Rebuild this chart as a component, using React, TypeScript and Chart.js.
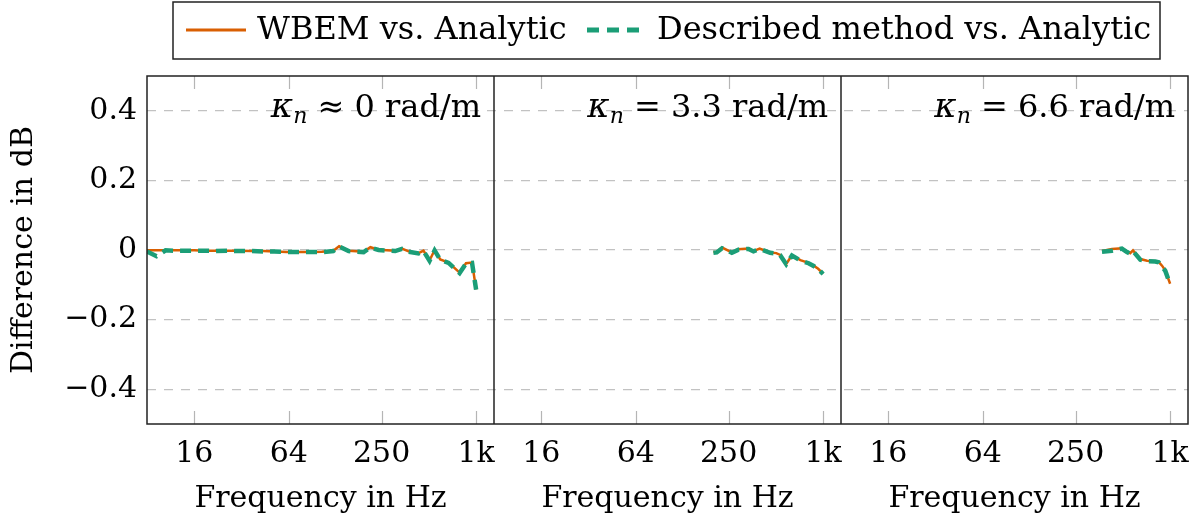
import { useEffect, useRef } from "react"
import Chart from "chart.js/auto"

const FONT = "DejaVu Serif"
const ORANGE = "#d95f02"
const GREEN = "#1b9e77"

const seriesNames = ["WBEM vs. Analytic", "Described method vs. Analytic"]
const panelLabels = ["≈ 0 rad/m", "= 3.3 rad/m", "= 6.6 rad/m"]
const xTicks = [16, 64, 250, 1000]
const yTicks = [-0.4, -0.2, 0, 0.2, 0.4]

// kappa_n ~ 0
const freq1 = [8, 9.2, 10.5, 12, 14, 16, 19, 22, 26, 31, 37, 44, 52, 62, 74, 88, 104, 123, 134, 154, 192, 212, 239, 305, 337, 371, 430, 462, 505, 544, 591, 668, 785, 862, 942, 1000]
const wbem1 = [-0.001, -0.001, -0.001, -0.001, -0.001, -0.001, -0.002, -0.002, -0.002, -0.002, -0.003, -0.003, -0.004, -0.006, -0.006, -0.006, -0.005, -0.002, 0.011, -0.002, -0.005, 0.008, 0.001, -0.002, 0.004, -0.004, -0.009, -0.002, -0.03, 0.0, -0.027, -0.036, -0.065, -0.038, -0.036, -0.113]
const described1 = [-0.004, -0.018, -0.001, -0.002, -0.002, -0.002, -0.002, -0.003, -0.002, -0.003, -0.003, -0.004, -0.004, -0.006, -0.006, -0.006, -0.006, -0.003, 0.01, -0.003, -0.006, 0.007, 0.0, -0.003, 0.003, -0.005, -0.01, -0.003, -0.031, -0.001, -0.028, -0.037, -0.066, -0.039, -0.037, -0.114]

// kappa_n = 3.3
const freq2 = [200, 210, 227, 262, 289, 335, 360, 394, 460, 503, 533, 582, 633, 716, 808, 870, 930, 1000]
const wbem2 = [-0.006, -0.005, 0.007, -0.007, 0.002, 0.004, -0.003, 0.004, -0.007, -0.009, -0.014, -0.04, -0.015, -0.029, -0.037, -0.045, -0.054, -0.068]
const described2 = [-0.008, -0.007, 0.005, -0.008, 0.001, 0.003, -0.004, 0.003, -0.008, -0.01, -0.015, -0.041, -0.016, -0.03, -0.038, -0.046, -0.055, -0.069]

// kappa_n = 6.6
const freq3 = [368, 426, 493, 531, 557, 580, 646, 713, 805, 845, 888, 932, 1000]
const wbem3 = [-0.003, 0.003, 0.005, -0.004, -0.009, -0.001, -0.026, -0.031, -0.032, -0.034, -0.045, -0.059, -0.097]
const described3 = [-0.005, -0.002, 0.004, -0.006, -0.011, -0.003, -0.028, -0.032, -0.033, -0.035, -0.047, -0.06, -0.099]

const panels = [
  { id: "x1", freq: freq1, wbem: wbem1, described: described1 },
  { id: "x2", freq: freq2, wbem: wbem2, described: described2 },
  { id: "x3", freq: freq3, wbem: wbem3, described: described3 },
]

const font = { family: FONT, size: 30 }
const bigSize = 32

function points(xs: number[], ys: number[]) {
  return xs.map((x, i) => ({ x, y: ys[i] }))
}

function fmtY(v: number) {
  if (Math.abs(v) < 1e-9) return "0"
  return (v < 0 ? "\u2212" : "") + Math.abs(v).toFixed(1)
}

const framePlugin = {
  id: "frame",
  afterDatasetsDraw(chart: any) {
    const ctx = chart.ctx as CanvasRenderingContext2D
    const { left, right, top, bottom } = chart.chartArea
    ctx.save()

    // small ticks inside the boxes
    ctx.strokeStyle = "#b5b5b5"
    ctx.lineWidth = 1.2
    panels.forEach((p) => {
      const s = chart.scales[p.id]
      xTicks.forEach((f) => {
        const px = Math.round(s.getPixelForValue(f)) + 0.5
        ctx.beginPath()
        ctx.moveTo(px, top)
        ctx.lineTo(px, top + 13)
        ctx.moveTo(px, bottom - 13)
        ctx.lineTo(px, bottom)
        ctx.stroke()
      })
    })

    // frame and panel separators
    ctx.strokeStyle = "#222"
    ctx.lineWidth = 1.5
    ctx.strokeRect(left, top, right - left, bottom - top)
    ;["x2", "x3"].forEach((id) => {
      const x = chart.scales[id].left
      ctx.beginPath()
      ctx.moveTo(x, top)
      ctx.lineTo(x, bottom)
      ctx.stroke()
    })

    // panel labels
    ctx.fillStyle = "#000"
    ctx.textBaseline = "alphabetic"
    panels.forEach((p, i) => {
      const s = chart.scales[p.id]
      const big = `italic ${bigSize + 2}px "${FONT}"`
      const small = `italic 22px "${FONT}"`
      const plain = `${bigSize}px "${FONT}"`
      const rest = " " + panelLabels[i]
      ctx.font = big
      const wk = ctx.measureText("κ").width
      ctx.font = small
      const wn = ctx.measureText("n").width
      ctx.font = plain
      const wr = ctx.measureText(rest).width
      let x = s.right - 13 - (wk + wn + wr)
      const y = top + 41
      ctx.font = big
      ctx.fillText("κ", x, y)
      x += wk
      ctx.font = small
      ctx.fillText("n", x, y + 6)
      x += wn
      ctx.font = plain
      ctx.fillText(rest, x, y)
    })
    ctx.restore()
  },
  afterDraw(chart: any) {
    const ctx = chart.ctx as CanvasRenderingContext2D
    ctx.save()
    ctx.strokeStyle = "#222"
    ctx.lineWidth = 1.5
    ctx.strokeRect(173, 2, 987, 57)

    ctx.lineWidth = 3
    ctx.strokeStyle = ORANGE
    ctx.beginPath()
    ctx.moveTo(186, 30)
    ctx.lineTo(246, 30)
    ctx.stroke()

    ctx.lineWidth = 5
    ctx.strokeStyle = GREEN
    ctx.setLineDash([12, 8])
    ctx.beginPath()
    ctx.moveTo(587, 30)
    ctx.lineTo(643, 30)
    ctx.stroke()
    ctx.setLineDash([])

    ctx.fillStyle = "#000"
    ctx.font = `${bigSize}px "${FONT}"`
    ctx.textBaseline = "middle"
    ctx.fillText(seriesNames[0], 257, 31)
    ctx.fillText(seriesNames[1], 657, 31)
    ctx.restore()
  },
}

export default function App() {
  const chartRef = useRef<HTMLCanvasElement>(null)
  const chartInstance = useRef<Chart | null>(null)

  useEffect(() => {
    if (!chartRef.current) return
    if (chartInstance.current) chartInstance.current.destroy()

    const datasets: any[] = []
    panels.forEach((p) => {
      datasets.push({
        label: seriesNames[1],
        data: points(p.freq, p.described),
        xAxisID: p.id,
        yAxisID: "y",
        borderColor: GREEN,
        borderWidth: 4.5,
        borderDash: [11, 7],
        pointRadius: 0,
        tension: 0,
        order: 0,
      })
      datasets.push({
        label: seriesNames[0],
        data: points(p.freq, p.wbem),
        xAxisID: p.id,
        yAxisID: "y",
        borderColor: ORANGE,
        borderWidth: 2.5,
        pointRadius: 0,
        tension: 0,
        order: 1,
      })
    })

    const xScale = () => ({
      type: "logarithmic",
      position: "bottom",
      stack: "freq",
      stackWeight: 1,
      min: 8,
      max: 1300,
      // invisible tick marks give the label offset without extra side padding
      grid: { display: true, drawOnChartArea: false, drawTicks: true, tickLength: 12, color: "rgba(0,0,0,0)" },
      border: { display: false },
      ticks: {
        font,
        color: "#000",
        padding: 0,
        maxRotation: 0,
        autoSkip: false,
        callback: (v: any) => (Number(v) === 1000 ? "1k" : String(v)),
      },
      title: {
        display: true,
        text: "Frequency in Hz",
        font,
        color: "#000",
        padding: { top: 0, bottom: 12 },
      },
      afterBuildTicks: (s: any) => {
        s.ticks = xTicks.map((v) => ({ value: v }))
      },
      afterFit: (s: any) => {
        s.height = 105
      },
    })

    chartInstance.current = new Chart(chartRef.current, {
      type: "line",
      data: { datasets },
      plugins: [framePlugin],
      options: {
        responsive: false,
        animation: false,
        layout: { padding: { top: 76, right: 12, bottom: 0, left: 0 } },
        plugins: {
          legend: { display: false },
          tooltip: { enabled: false },
        },
        scales: {
          x1: xScale(),
          x2: xScale(),
          x3: xScale(),
          y: {
            type: "linear",
            position: "left",
            min: -0.5,
            max: 0.5,
            grid: { color: "#c2c2c2", lineWidth: 1.3, drawTicks: false },
            border: { display: false, dash: [9, 8] },
            ticks: {
              font,
              color: "#000",
              padding: 10,
              callback: (v: any) => fmtY(Number(v)),
            },
            title: {
              display: true,
              text: "Difference in dB",
              font,
              color: "#000",
              padding: { top: 6, bottom: 0 },
            },
            afterBuildTicks: (s: any) => {
              s.ticks = yTicks.map((v) => ({ value: v }))
            },
            afterFit: (s: any) => {
              s.width = 147
            },
          },
        } as any,
      },
    })

    return () => {
      if (chartInstance.current) {
        chartInstance.current.destroy()
        chartInstance.current = null
      }
    }
  }, [])

  return (
    <div style={{ position: "absolute", left: 0, top: 0, width: 1200, height: 529, background: "#fff" }}>
      <canvas ref={chartRef} width={1200} height={529} style={{ width: 1200, height: 529 }} />
    </div>
  )
}
